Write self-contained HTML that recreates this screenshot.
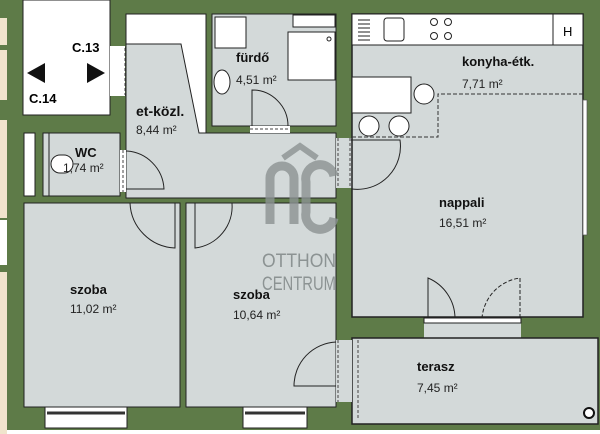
<!DOCTYPE html>
<html><head><meta charset="utf-8"><style>
html,body{margin:0;padding:0;background:#fff}
svg{display:block}
text{font-family:"Liberation Sans",sans-serif}
.b{font-weight:bold;font-size:13px;fill:#111}
.n{font-size:12px;fill:#222}
</style></head><body>
<svg width="600" height="434" viewBox="0 0 600 434" xmlns="http://www.w3.org/2000/svg">
<rect x="0" y="0" width="600" height="434" fill="#fff"/>
<rect x="0" y="0" width="600" height="430" fill="#5e7b48"/>
<rect x="0" y="18" width="7" height="27" fill="#f0e4cc"/>
<rect x="0" y="50" width="7" height="50" fill="#f0e4cc"/>
<rect x="0" y="120" width="7" height="98" fill="#f0e4cc"/>
<rect x="0" y="220" width="7" height="45" fill="#fff"/>
<rect x="0" y="272" width="7" height="162" fill="#f0e4cc"/>
<rect x="23" y="0" width="87" height="115" fill="#fff" stroke="#222" stroke-width="1"/>
<text x="72" y="52" style="font-weight:bold;font-size:13px">C.13</text>
<text x="29" y="103" style="font-weight:bold;font-size:13px">C.14</text>
<polygon points="27,73 45,63 45,83" fill="#111"/>
<polygon points="105,73 87,63 87,83" fill="#111"/>
<rect x="110" y="46" width="15" height="50" fill="#fff"/>
<line x1="125" y1="48" x2="125" y2="95" stroke="#444" stroke-dasharray="3,2"/>
<path d="M125,48 L161,48 A36,36 0 0 1 125,95" fill="none" stroke="#222"/>
<rect x="126" y="14" width="80" height="120" fill="#fff" stroke="#222"/>
<polygon points="126,44 181,44 199,133 336,133 336,198 126,198" fill="#d3d9d9" stroke="#222"/>
<text x="136" y="116" class="b" style="font-size:14px">et-közl.</text>
<text x="136" y="134" class="n">8,44 m²</text>
<rect x="24" y="133" width="11" height="63" fill="#fff" stroke="#222"/>
<rect x="43" y="133" width="77" height="63" fill="#d3d9d9" stroke="#222"/>
<line x1="49" y1="133" x2="49" y2="196" stroke="#222"/>
<rect x="51" y="155" width="22" height="18" rx="9" fill="#fff" stroke="#222"/>
<text x="75" y="157" class="b">WC</text>
<text x="63" y="172" class="n">1,74 m²</text>
<rect x="120" y="150" width="6" height="42" fill="#fff"/>
<line x1="123" y1="150" x2="123" y2="192" stroke="#444" stroke-dasharray="3,2"/>
<path d="M126,151 A40,40 0 0 1 164,189 L126,189" fill="none" stroke="#222"/>
<rect x="212" y="14" width="124" height="112" fill="#d3d9d9" stroke="#222"/>
<rect x="215" y="17" width="31" height="31" fill="#fff" stroke="#222"/>
<rect x="293" y="15" width="42" height="12" fill="#fff" stroke="#222"/>
<rect x="288" y="32" width="47" height="48" fill="#fff" stroke="#222"/>
<circle cx="329" cy="39" r="2" fill="none" stroke="#222"/>
<ellipse cx="222" cy="82" rx="8" ry="12" fill="#fff" stroke="#222"/>
<text x="236" y="62" class="b">fürdő</text>
<text x="236" y="84" class="n">4,51 m²</text>
<rect x="250" y="126" width="40" height="7" fill="#fff"/>
<line x1="250" y1="129" x2="290" y2="129" stroke="#444" stroke-dasharray="3,2"/>
<path d="M252,126 L252,90 A36,36 0 0 1 288,126" fill="none" stroke="#222"/>
<rect x="336" y="138" width="16" height="50" fill="#d3d9d9"/>
<line x1="338" y1="138" x2="338" y2="188" stroke="#444" stroke-dasharray="3,2"/>
<line x1="350" y1="138" x2="350" y2="188" stroke="#444" stroke-dasharray="3,2"/>
<rect x="24" y="203" width="156" height="204" fill="#d3d9d9" stroke="#222"/>
<rect x="186" y="203" width="150" height="204" fill="#d3d9d9" stroke="#222"/>
<path d="M130,203 A47,47 0 0 0 175,248 L175,203" fill="none" stroke="#222"/>
<path d="M232,203 A42,42 0 0 1 195,248 L195,203" fill="none" stroke="#222"/>
<text x="70" y="294" class="b">szoba</text>
<text x="70" y="313" class="n">11,02 m²</text>
<text x="233" y="299" class="b">szoba</text>
<text x="233" y="319" class="n">10,64 m²</text>
<rect x="45" y="407" width="82" height="21" fill="#fff" stroke="#222"/>
<line x1="47" y1="413" x2="125" y2="413" stroke="#333" stroke-width="3"/>
<rect x="243" y="407" width="64" height="21" fill="#fff" stroke="#222"/>
<line x1="245" y1="413" x2="305" y2="413" stroke="#333" stroke-width="3"/>
<g fill="none" stroke="#8c9393" stroke-width="9" opacity="0.8">
<path d="M270,224 L270,178 A12,12 0 0 1 294,178 L294,224"/>
<path d="M334,176 A14,14 0 0 0 306,182 L306,212 A14,14 0 0 0 334,218"/>
<path d="M283,158 L300,146 L317,158" stroke-width="6"/>
</g>
<text x="262" y="267" textLength="74" lengthAdjust="spacingAndGlyphs" style="font-size:19px;fill:#8c9393">OTTHON</text>
<text x="262" y="290" textLength="74" lengthAdjust="spacingAndGlyphs" style="font-size:19px;fill:#8c9393">CENTRUM</text>
<rect x="352" y="14" width="231" height="303" fill="#d3d9d9" stroke="#222" stroke-width="1.5"/>
<rect x="352" y="14" width="231" height="31" fill="#fff" stroke="#222"/>
<line x1="553" y1="14" x2="553" y2="45" stroke="#222"/>
<text x="563" y="36" style="font-size:13px">H</text>
<g stroke="#222" stroke-width="1"><line x1="358" y1="20" x2="370" y2="20"/><line x1="358" y1="24" x2="370" y2="24"/><line x1="358" y1="28" x2="370" y2="28"/><line x1="358" y1="32" x2="370" y2="32"/><line x1="358" y1="36" x2="370" y2="36"/><line x1="358" y1="40" x2="370" y2="40"/></g>
<rect x="384" y="18" width="20" height="23" rx="3" fill="#fff" stroke="#222"/>
<circle cx="434" cy="22" r="3.5" fill="none" stroke="#222"/><circle cx="448" cy="22" r="3.5" fill="none" stroke="#222"/>
<circle cx="434" cy="36" r="3.5" fill="none" stroke="#222"/><circle cx="448" cy="36" r="3.5" fill="none" stroke="#222"/>
<text x="462" y="66" class="b">konyha-étk.</text>
<text x="462" y="88" class="n">7,71 m²</text>
<rect x="352" y="77" width="59" height="36" fill="#fff" stroke="#222"/>
<circle cx="424" cy="94" r="10" fill="#fff" stroke="#222"/>
<circle cx="369" cy="126" r="10" fill="#fff" stroke="#222"/>
<circle cx="399" cy="126" r="10" fill="#fff" stroke="#222"/>
<path d="M352,137 L438,137 L438,94 L583,94" fill="none" stroke="#333" stroke-dasharray="4,2"/>
<path d="M351,140 L400,140 A43,43 0 0 1 352,189" fill="none" stroke="#222"/>
<text x="439" y="207" class="b">nappali</text>
<text x="439" y="227" class="n">16,51 m²</text>
<rect x="583" y="100" width="4" height="135" fill="#fff" stroke="#555" stroke-width="0.7"/>
<path d="M428,318 L428,278 A44,44 0 0 1 455,318" fill="none" stroke="#222"/>
<path d="M520,318 L520,278 A44,44 0 0 0 482,318" fill="none" stroke="#222" stroke-dasharray="4,2"/>
<rect x="424" y="318" width="97" height="20" fill="#d3d9d9"/>
<rect x="424" y="318" width="97" height="5" fill="#fff" stroke="#222"/>
<line x1="424" y1="338" x2="521" y2="338" stroke="#333" stroke-dasharray="4,2"/>
<rect x="352" y="338" width="246" height="86" fill="#d3d9d9" stroke="#222" stroke-width="1.5"/>
<rect x="336" y="340" width="16" height="62" fill="#d3d9d9"/>
<line x1="338" y1="340" x2="338" y2="402" stroke="#444" stroke-dasharray="3,2"/>
<line x1="358" y1="340" x2="358" y2="420" stroke="#444" stroke-dasharray="3,2"/>
<path d="M336,342 A44,44 0 0 0 294,386 L336,386" fill="none" stroke="#222"/>
<circle cx="589" cy="413" r="5" fill="#fff" stroke="#111" stroke-width="2"/>
<text x="417" y="371" class="b">terasz</text>
<text x="417" y="392" class="n">7,45 m²</text>
</svg>
</body></html>
